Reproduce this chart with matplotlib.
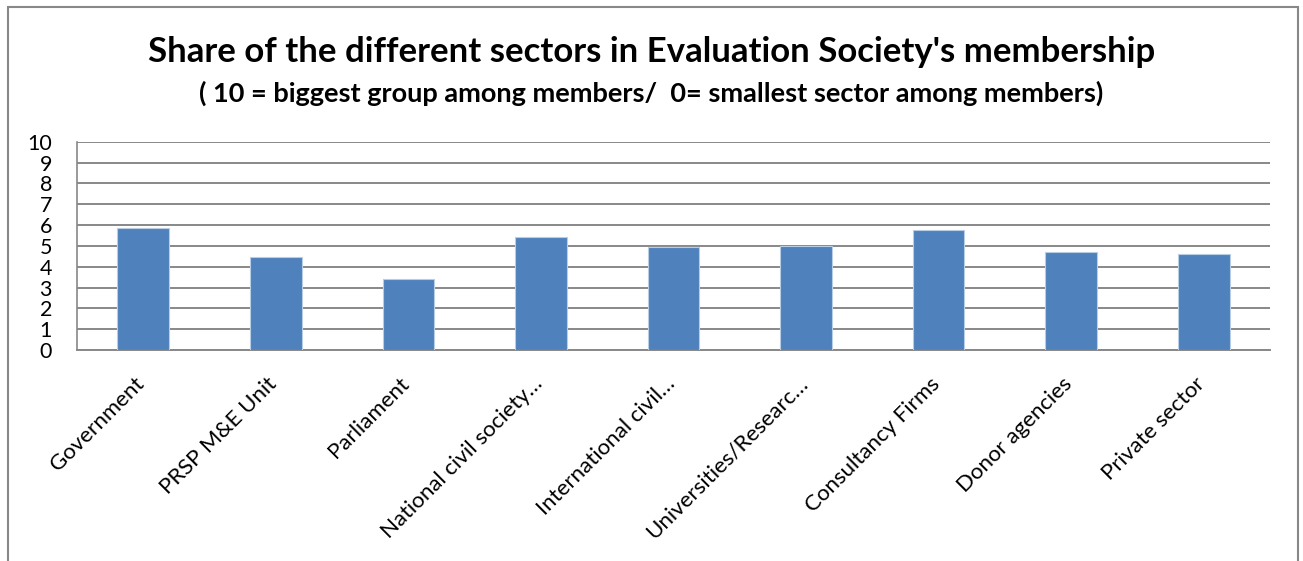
import numpy as np
import matplotlib.pyplot as plt
import matplotlib.transforms as mtransforms
from matplotlib.patches import Rectangle

# sector scores (0-10 scale)
sectors = ["Government", "PRSP M&E Unit", "Parliament", "National civil society\u2026",
           "International civil\u2026", "Universities/Researc\u2026", "Consultancy Firms",
           "Donor agencies", "Private sector"]
scores = [5.86, 4.45, 3.39, 5.42, 4.93, 4.99, 5.74, 4.69, 4.62]
yticks = list(range(0, 11))

plt.rcParams['font.family'] = ['Lato', 'DejaVu Sans']

fig = plt.figure(figsize=(13.03, 5.61), dpi=100)
ax = fig.add_axes([0.0591, 0.3761, 0.9156, 0.3713])

x = np.arange(len(sectors))
ax.bar(x, scores, width=0.39, color='#4F81BD', edgecolor='#B9CDE5', linewidth=0.8, zorder=3)

ax.set_xlim(-0.5, len(sectors) - 0.5)
ax.set_ylim(0, 10)
ax.set_yticks(yticks)
ax.set_yticklabels([str(t) for t in yticks], fontsize=15.5)
ax.tick_params(axis='y', length=0, pad=18)
ax.tick_params(axis='x', length=0)
ax.yaxis.grid(True, color='#888888', linewidth=1.4, zorder=0)
ax.set_axisbelow(True)

for side in ['top', 'right']:
    ax.spines[side].set_visible(False)
ax.spines['left'].set_color('#888888')
ax.spines['bottom'].set_color('#888888')
ax.spines['left'].set_linewidth(1.2)
ax.spines['bottom'].set_linewidth(1.4)

# rotated category labels, ending under each bar
ax.set_xticks(x)
ax.set_xticklabels(sectors, fontsize=16, rotation=45, ha='right', va='center',
                   rotation_mode='anchor')
shift = mtransforms.ScaledTranslation(-2 / 100, -26 / 100, fig.dpi_scale_trans)
for lbl in ax.get_xticklabels():
    lbl.set_transform(lbl.get_transform() + shift)

fig.text(0.5, 0.908, "Share of the different sectors in Evaluation Society's membership",
         ha='center', va='center', fontsize=25, fontweight='bold')
fig.text(0.5, 0.833, "( 10 = biggest group among members/  0= smallest sector among members)",
         ha='center', va='center', fontsize=19.5, fontweight='bold')

# chart area frame
fig.patches.append(Rectangle((8 / 1303, -0.05), 1290 / 1303, 1 - 7 / 561 + 0.05,
                             transform=fig.transFigure, fill=False,
                             edgecolor='#888888', linewidth=1.5))

fig.savefig('out.png', dpi=100)
